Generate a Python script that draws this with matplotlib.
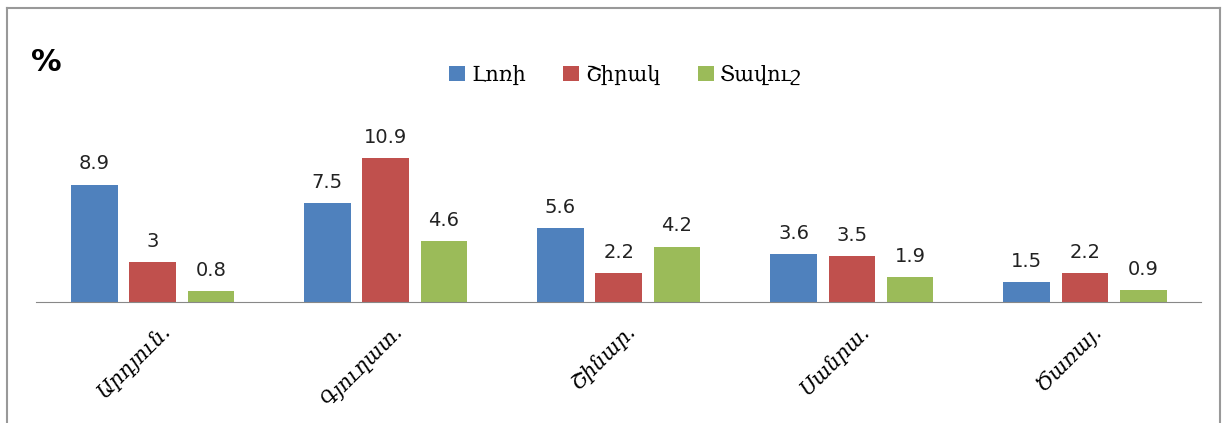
import matplotlib
matplotlib.use("Agg")
import matplotlib.pyplot as plt
import matplotlib.transforms as mtransforms
import numpy as np
from matplotlib.lines import Line2D

# data
categories = ["Արդյուն.", "Գյուղատ.", "Շինար.", "Սանրա.", "Ծառայ."]
series_names = ["Լոռի", "Շիրակ", "Տավուշ"]
lori = [8.9, 7.5, 5.6, 3.6, 1.5]
shirak = [3.0, 10.9, 2.2, 3.5, 2.2]
tavush = [0.8, 4.6, 4.2, 1.9, 0.9]
value_labels = [
    ["8.9", "7.5", "5.6", "3.6", "1.5"],
    ["3", "10.9", "2.2", "3.5", "2.2"],
    ["0.8", "4.6", "4.2", "1.9", "0.9"],
]
colors = ["#4F81BD", "#C0504D", "#9BBB59"]

fig = plt.figure(figsize=(12.26, 4.23), dpi=100)
ax = fig.add_axes([0.0294, 0.286, 0.9506, 0.3745])

x = np.arange(len(categories))
width = 0.2
offsets = [-0.25, 0.0, 0.25]

for vals, labs, off, col, name in zip(
    [lori, shirak, tavush], value_labels, offsets, colors, series_names
):
    bars = ax.bar(x + off, vals, width, color=col, label=name)
    for b, t in zip(bars, labs):
        ax.annotate(
            t,
            (b.get_x() + b.get_width() / 2, b.get_height()),
            xytext=(0, 8),
            textcoords="offset points",
            ha="center",
            va="bottom",
            fontsize=14,
            family="DejaVu Sans",
            color="#222222",
            annotation_clip=False,
        )

ax.set_xlim(-0.5, len(categories) - 0.5)
ax.set_ylim(0, 12)
ax.set_yticks([])
for s in ["top", "right", "left"]:
    ax.spines[s].set_visible(False)
ax.spines["bottom"].set_color("#888888")
ax.tick_params(axis="x", length=0, pad=8)
ax.set_xticks(x)
ax.set_xticklabels(
    categories,
    rotation=45,
    ha="right",
    va="center",
    rotation_mode="anchor",
    fontsize=15,
    family="DejaVu Serif",
    style="italic",
)
# shift the rotated labels so they end just right of the group centre
shift = mtransforms.ScaledTranslation(14 / 100, -15 / 100, fig.dpi_scale_trans)
for lab in ax.get_xticklabels():
    lab.set_transform(lab.get_transform() + shift)

leg = fig.legend(
    loc="center",
    bbox_to_anchor=(0.51, 0.823),
    ncol=3,
    frameon=False,
    prop={"family": "DejaVu Serif", "size": 15},
    handlelength=0.75,
    handleheight=0.75,
    handletextpad=0.3,
    columnspacing=1.8,
)

fig.text(0.025, 0.853, "%", fontsize=22, weight="bold", family="DejaVu Sans", va="center")

# outer frame
fc = "#999999"
fig.add_artist(Line2D([0.006, 0.006], [0.0, 0.981], color=fc, lw=1.5, transform=fig.transFigure))
fig.add_artist(Line2D([0.006, 0.995], [0.981, 0.981], color=fc, lw=1.5, transform=fig.transFigure))
fig.add_artist(Line2D([0.995, 0.995], [0.0, 0.981], color=fc, lw=1.5, transform=fig.transFigure))

fig.savefig("out.png", dpi=100)
